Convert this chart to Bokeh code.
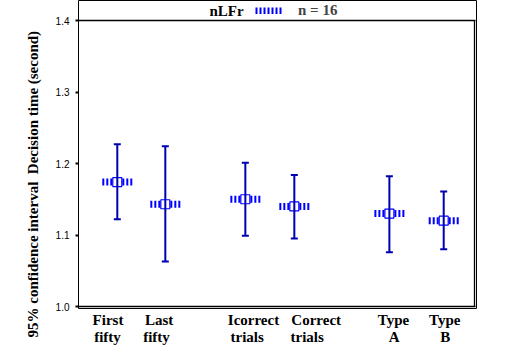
import math
from bokeh.plotting import figure
from bokeh.models import (Range1d, FixedTicker, LinearAxis, Label, Legend,
                          LegendItem, PrintfTickFormatter, Title)
from bokeh.embed import file_html
from bokeh.resources import INLINE

# ---- data ----
label_line1 = ["First", "Last", "Icorrect", "Correct", "Type", "Type"]
label_line2 = ["fifty", "fifty", "trials", "trials", "A", "B"]
means = [1.174, 1.143, 1.150, 1.140, 1.130, 1.120]
upper = [1.227, 1.224, 1.201, 1.184, 1.182, 1.161]
lower = [1.122, 1.063, 1.099, 1.095, 1.076, 1.080]
y_ticks = [1.0, 1.1, 1.2, 1.3, 1.4]
y_min, y_max = 1.0, 1.4
group_name = "nLFr"
n_text = "n = 16"
y_title = "95% confidence interval \u00a0Decision time (second)"

# ---- layout (positions on the x scale) ----
x_pos = [0.80, 1.79, 3.44, 4.45, 6.41, 7.53]
line1_pos = [0.608, 1.664, 3.608, 4.901, 6.495, 7.553]
line2_pos = [0.598, 1.608, 3.478, 4.715, 6.509, 7.561]
px_per_unit = 48.5
box_w = 396
half_w = 15 / px_per_unit
px_per_y = 715.0
top_pad = 20  # px above the 1.4 line, room for the title-legend

BAR = "#0000B0"
STRIPE = "#0000FF"
EDGE = "#000000"
SERIF = "Liberation Serif"
SANS = "Liberation Sans"

x_box = box_w / px_per_unit
p = figure(width=507, height=351, output_backend="svg", toolbar_location=None,
           x_range=Range1d(0, (box_w + 2) / px_per_unit),
           y_range=Range1d(y_min - 2 / px_per_y, y_max + top_pad / px_per_y),
           x_axis_location=None, y_axis_location="left",
           min_border_left=78, min_border_right=31, min_border_top=0,
           min_border_bottom=43)
p.grid.visible = False
p.outline_line_color = "black"
p.outline_line_width = 1
p.background_fill_color = "white"
p.border_fill_color = "white"

ya = p.yaxis[0]
ya.bounds = (y_min, y_max)
ya.ticker = FixedTicker(ticks=y_ticks)
ya.formatter = PrintfTickFormatter(format="%.1f")
ya.major_tick_out = 3
ya.major_tick_in = 0
ya.minor_tick_line_color = None
ya.major_tick_line_width = 2
ya.major_tick_line_color = "black"
ya.axis_line_color = "black"
ya.major_label_text_font = SANS
ya.major_label_text_font_size = "10px"
ya.major_label_text_color = "black"
ya.major_label_standoff = 6

p.add_layout(Title(text=y_title, align="left", offset=-29, standoff=24,
                   text_font=SERIF, text_font_style="bold", text_font_size="15px",
                   text_color="black"), "left")

def make_axis(labels, positions, standoff):
    ax = LinearAxis(ticker=FixedTicker(ticks=positions),
                    major_label_overrides={pos: lab for pos, lab in zip(positions, labels)})
    ax.axis_line_color = None
    ax.major_tick_line_color = None
    ax.minor_tick_line_color = None
    ax.major_tick_out = 0
    ax.major_tick_in = 0
    ax.major_label_standoff = standoff
    ax.major_label_text_font = SERIF
    ax.major_label_text_font_style = "bold"
    ax.major_label_text_font_size = "15px"
    ax.major_label_text_color = "black"
    return ax

p.add_layout(make_axis(label_line1, line1_pos, 3), "below")
p.add_layout(make_axis(label_line2, line2_pos, -2), "below")

# frame box drawn as thin filled bars (bottom, top, right)
p.hbar(y=[y_min, y_max], left=0, right=x_box + 1 / px_per_unit,
       height=1.3 / px_per_y, fill_color=EDGE, line_color=None)
p.vbar(x=[x_box], bottom=y_min, top=y_max, width=1.3 / px_per_unit,
       fill_color=EDGE, line_color=None)

# striped mean markers
x0 = [x - half_w for x in x_pos]
x1 = [x + half_w for x in x_pos]
stripes = p.segment(x0=x0, y0=means, x1=x1, y1=means, line_width=7,
                    line_dash="2 2", line_color=STRIPE, line_cap="butt")
p.scatter(x_pos, means, marker="square", size=9, fill_color="white",
          line_color=STRIPE, line_width=1.2)

# error bars
p.segment(x0=x_pos, y0=lower, x1=x_pos, y1=upper, line_width=2, line_color=BAR)
p.scatter(x_pos, upper, marker="dash", size=7, line_width=2, line_color=BAR)
p.scatter(x_pos, lower, marker="dash", size=7, line_width=2, line_color=BAR)

# title-legend at the top
p.add_layout(Label(x=131, y=298, x_units="screen", y_units="screen", text=group_name,
                   text_font=SERIF, text_font_style="bold", text_font_size="15px",
                   text_baseline="middle", text_align="left", text_color="black"))
legend = Legend(items=[LegendItem(label=n_text, renderers=[stripes])],
                location=(177, 289), glyph_width=28, glyph_height=7, padding=0,
                margin=0, border_line_color=None, background_fill_alpha=0,
                label_standoff=15, label_text_font=SERIF,
                label_text_font_style="bold", label_text_font_size="15px",
                label_height=15)
p.add_layout(legend, "center")

open("out.html", "w").write(file_html(p, INLINE))
